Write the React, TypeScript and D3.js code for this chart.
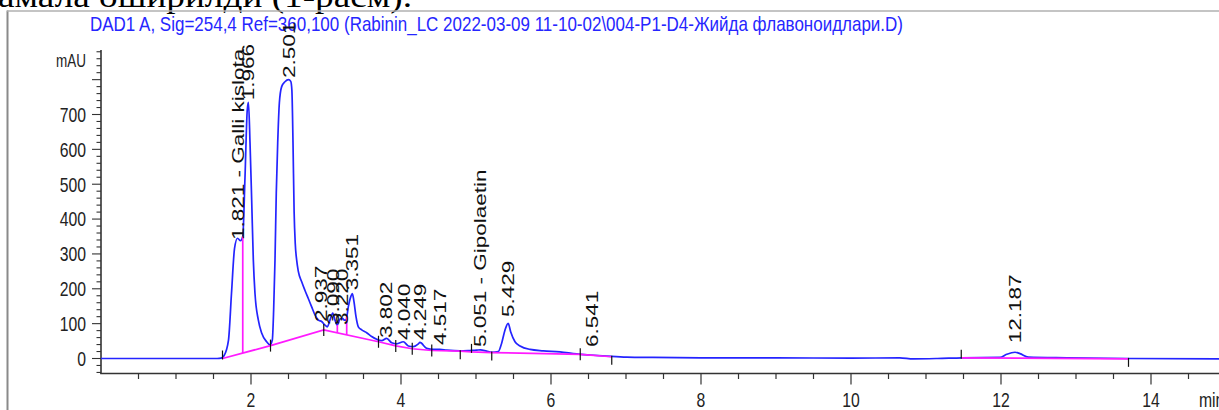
import React from "react";
import * as d3 from "d3";

const W = 1219;
const H = 410;

const titleText =
  "DAD1 A, Sig=254,4 Ref=360,100 (Rabinin_LC 2022-03-09 11-10-02\\004-P1-D4-Жийда флавоноидлари.D)";
const docText = "амала оширилди (1-расм).";

const signalTime = [
  0, 1.55, 1.6, 1.64, 1.7, 1.74, 1.78, 1.82, 1.86, 1.89, 1.92, 1.95, 1.966, 1.987, 2.009, 2.031,
  2.053, 2.098, 2.142, 2.209, 2.253, 2.284, 2.302, 2.32, 2.337, 2.356, 2.378, 2.409, 2.453, 2.5,
  2.53, 2.545, 2.56, 2.575, 2.59, 2.609, 2.631, 2.676, 2.72, 2.764, 2.809, 2.853, 2.898, 2.942,
  2.987, 3.017, 3.053, 3.09, 3.12, 3.151, 3.187, 3.22, 3.244, 3.267, 3.298, 3.333, 3.351, 3.373,
  3.4, 3.431, 3.476, 3.542, 3.609, 3.676, 3.742, 3.809, 3.876, 3.942, 4.031, 4.098, 4.164, 4.231,
  4.253, 4.342, 4.43, 4.517, 4.609, 4.787, 4.92, 5.009, 5.06, 5.142, 5.209, 5.298, 5.342, 5.387,
  5.429, 5.462, 5.52, 5.587, 5.72, 5.898, 6.12, 6.342, 6.52, 6.742, 7.009, 7.36, 8.0, 9.0, 10.0,
  10.65, 10.83, 11.15, 11.48, 11.987, 12.076, 12.187, 12.253, 12.364, 12.876, 13.7, 14.91,
];
const signalValue = [
  0, 0, 1, 8, 53, 187, 315, 345, 338, 350, 520, 713, 735, 618, 455, 283,
  187, 110, 73, 48, 39, 53, 139, 283, 474, 618, 733, 780, 794, 800,
  795, 770, 620, 420, 330, 282, 250, 220, 195, 172, 148, 125, 110, 106,
  96, 91, 110, 130, 110, 96, 113, 115, 110, 110, 149, 179, 186, 163,
  120, 91, 82, 74, 63, 55, 51, 58, 45, 42, 48, 36, 34, 42,
  46, 29, 26, 26, 24, 22, 23, 24, 25, 21, 18, 20, 44, 82,
  101, 77, 48, 36, 26, 22, 19, 13, 10, 7, 4, 3, 2, 2, 1,
  2, -1, 0, 2, 3, 12, 18, 14, 4, 2, 0, -1,
];

// integration baselines (pink)
const baseTimes1 = [1.62, 2.26, 2.97, 3.7, 3.93, 4.15, 4.41, 4.79, 4.94, 5.21, 6.39, 6.81];
const baseValues1 = [0, 37, 82, 48, 36, 28, 23, 21, 19, 17, 12, 5];
const baseKinds1 = ["up", "mid", "mid", "mid", "mid", "mid", "mid", "down", "up", "down", "mid", "down"];
const baseTimes2 = [11.47, 13.7];
const baseValues2 = [2, -1];
const baseKinds2 = ["up", "down"];
const dropTimes = [1.89, 3.151, 3.276];

// peak labels
const peakTimes = [1.821, 1.966, 2.501, 2.937, 3.09, 3.22, 3.351, 3.802, 4.04, 4.249, 4.517, 5.051, 5.429, 6.541, 12.187];
const peakNames = [
  "1.821 - Galli kislota", "1.966", "2.501", "2.937", "3.090", "3.220", "3.351", "3.802",
  "4.040", "4.249", "4.517", "5.051 - Gipolaetin", "5.429", "6.541", "12.187",
];
const labelBase = [340, 741, 805, 105, 96, 96, 196, 59, 53, 53, 39, 33, 119, 33, 44];

const xMajor = [2, 4, 6, 8, 10, 12, 14];
const yLabels = [0, 100, 200, 300, 400, 500, 600, 700];

const FONT = "'Liberation Sans', Arial, sans-serif";
const SX = 0.75;

export default function App() {
  const x = d3.scaleLinear().domain([0, 14]).range([101, 1151]);
  const y = d3.scaleLinear().domain([0, 700]).range([358.5, 114.5]);

  const pts: [number, number][] = signalTime.map((t, i) => [t, signalValue[i]]);
  const line = d3
    .line<[number, number]>()
    .x((d) => x(d[0]))
    .y((d) => y(d[1]))
    .curve(d3.curveMonotoneX);
  const baseLine = d3
    .line<[number, number]>()
    .x((d) => x(d[0]))
    .y((d) => y(d[1]));

  const sigAt = (t: number) => {
    const i = d3.bisectRight(signalTime, t) - 1;
    const t0 = signalTime[i], t1 = signalTime[i + 1];
    const v0 = signalValue[i], v1 = signalValue[i + 1];
    return v0 + ((v1 - v0) * (t - t0)) / (t1 - t0);
  };
  const baseAt = (t: number) => {
    const i = d3.bisectRight(baseTimes1, t) - 1;
    const t0 = baseTimes1[i], t1 = baseTimes1[i + 1];
    const v0 = baseValues1[i], v1 = baseValues1[i + 1];
    return v0 + ((v1 - v0) * (t - t0)) / (t1 - t0);
  };

  const yMinor = d3.range(-40, 881, 20);
  const xMinor = d3.range(0.5, 14.91, 0.5);
  const axisY0 = y(-42);
  const axisY1 = y(885);
  const xAxisY = 373.5;

  const tickMarks = (times: number[], vals: number[], kinds: string[]) =>
    times.map((t, i) => {
      const yy = y(vals[i]);
      const k = kinds[i];
      const a = k === "up" ? yy - 8 : k === "down" ? yy - 1 : yy - 6;
      const b = k === "up" ? yy + 1 : k === "down" ? yy + 8 : yy + 6;
      return <line key={"bt" + t} x1={x(t)} x2={x(t)} y1={a} y2={b} stroke="#111" strokeWidth={1.2} />;
    });

  return (
    <svg
      width={W}
      height={H}
      viewBox={`0 0 ${W} ${H}`}
      style={{ position: "absolute", left: 0, top: 0, background: "#fff" }}
    >
      <rect x={0} y={0} width={W} height={H} fill="#fff" />
      {/* document text clipped at top */}
      <text
        x={-2}
        y={6.5}
        fontFamily="'Liberation Serif', 'Times New Roman', serif"
        fontSize={32}
        textLength={414}
        lengthAdjust="spacingAndGlyphs"
        fill="#000"
      >
        {docText}
      </text>
      {/* frame */}
      <line x1={7.5} x2={7.5} y1={10.5} y2={H} stroke="#8a8a8a" strokeWidth={2} />
      <line x1={7} x2={W} y1={11} y2={11} stroke="#b0b0b0" strokeWidth={1.5} />

      {/* title */}
      <text
        x={90}
        y={31}
        fontFamily={FONT}
        fontSize={21}
        fill="#2626ff"
        textLength={813}
        lengthAdjust="spacingAndGlyphs"
      >
        {titleText}
      </text>

      {/* y axis */}
      <line x1={101} x2={101} y1={axisY1} y2={axisY0 + 0.5} stroke="#333" strokeWidth={1.6} />
      {yMinor.map((v) => {
        const major = v % 100 === 0;
        return (
          <line
            key={"ym" + v}
            x1={major ? 92 : 96.5}
            x2={101}
            y1={y(v)}
            y2={y(v)}
            stroke="#333"
            strokeWidth={1.1}
          />
        );
      })}
      {yLabels.map((v) => (
        <text
          key={"yl" + v}
          transform={`translate(86,${y(v)}) scale(${SX},1)`}
          textAnchor="end"
          dominantBaseline="central"
          fontFamily={FONT}
          fontSize={21}
          fill="#222"
        >
          {v}
        </text>
      ))}
      <text
        transform={`translate(86,${y(850) - 1}) scale(${SX},1)`}
        textAnchor="end"
        dominantBaseline="central"
        fontFamily={FONT}
        fontSize={18}
        fill="#222"
      >
        mAU
      </text>

      {/* x axis */}
      <line x1={100.2} x2={W} y1={xAxisY} y2={xAxisY} stroke="#333" strokeWidth={1.6} />
      {xMinor.map((t) => {
        const major = Math.abs(t % 2) < 1e-9;
        return (
          <line
            key={"xm" + t}
            x1={x(t)}
            x2={x(t)}
            y1={xAxisY}
            y2={xAxisY + (major ? 11 : 5.5)}
            stroke="#333"
            strokeWidth={1.2}
          />
        );
      })}
      {xMajor.map((t) => (
        <text
          key={"xl" + t}
          transform={`translate(${x(t)},407) scale(${SX},1)`}
          textAnchor="middle"
          fontFamily={FONT}
          fontSize={21}
          fill="#222"
        >
          {t}
        </text>
      ))}
      <text
        transform={`translate(1199,407) scale(${SX},1)`}
        fontFamily={FONT}
        fontSize={21}
        fill="#222"
      >
        min
      </text>

      {/* signal */}
      <path d={line(pts) ?? ""} fill="none" stroke="#2424ff" strokeWidth={1.7} strokeLinejoin="round" />

      {/* integration baselines */}
      <path
        d={baseLine(baseTimes1.map((t, i) => [t, baseValues1[i]] as [number, number])) ?? ""}
        fill="none"
        stroke="#ff1aff"
        strokeWidth={1.7}
      />
      <path
        d={baseLine(baseTimes2.map((t, i) => [t, baseValues2[i]] as [number, number])) ?? ""}
        fill="none"
        stroke="#ff1aff"
        strokeWidth={1.7}
      />
      {dropTimes.map((t) => (
        <line
          key={"dr" + t}
          x1={x(t)}
          x2={x(t)}
          y1={y(baseAt(t))}
          y2={y(sigAt(t))}
          stroke="#ff1aff"
          strokeWidth={1.7}
        />
      ))}
      {tickMarks(baseTimes1, baseValues1, baseKinds1)}
      {tickMarks(baseTimes2, baseValues2, baseKinds2)}

      {/* peak labels */}
      {peakTimes.map((t, i) => (
        <text
          key={"pl" + t}
          transform={`translate(${x(t)},${y(labelBase[i])}) scale(${SX},1) rotate(-90)`}
          dominantBaseline="central"
          fontFamily={FONT}
          fontSize={22.5}
          fill="#111"
        >
          {peakNames[i]}
        </text>
      ))}
    </svg>
  );
}
